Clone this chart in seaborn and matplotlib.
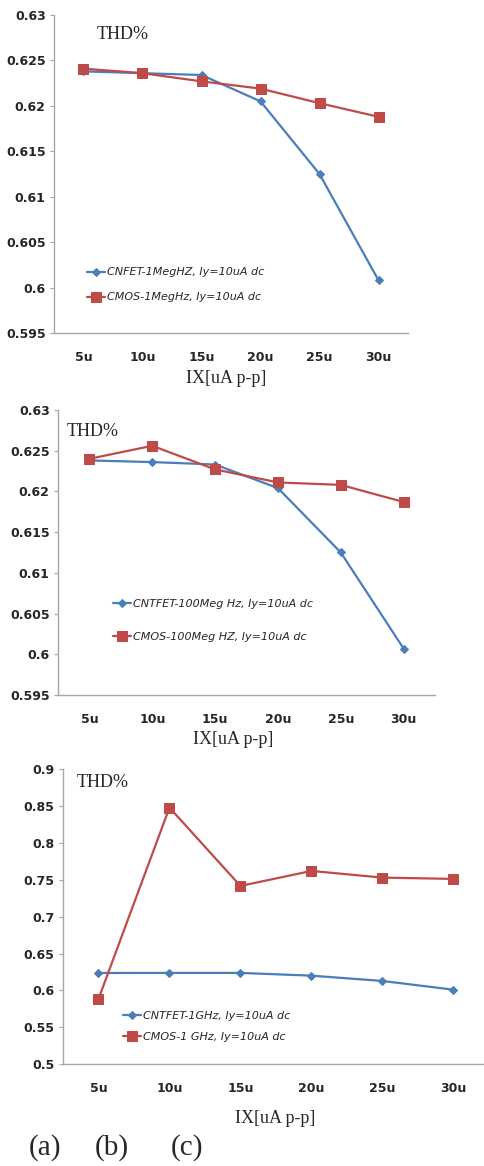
import numpy as np
import pandas as pd
import matplotlib
matplotlib.use("Agg")
import matplotlib.pyplot as plt
import seaborn as sns

sns.set_style("white")
plt.rcParams["font.family"] = ["DejaVu Sans"]

# data
ix_labels = ["5u", "10u", "15u", "20u", "25u", "30u"]

a_cnfet = [0.6238, 0.6236, 0.6234, 0.6205, 0.6125, 0.6008]
a_cmos = [0.6241, 0.6236, 0.6227, 0.6219, 0.6203, 0.6188]
b_cnfet = [0.6238, 0.6236, 0.6233, 0.6204, 0.6125, 0.6007]
b_cmos = [0.6240, 0.6256, 0.6227, 0.6211, 0.6208, 0.6187]
c_cnfet = [0.6237, 0.6238, 0.6238, 0.6201, 0.6129, 0.6011]
c_cmos = [0.5885, 0.8477, 0.7416, 0.7619, 0.7529, 0.7511]

a_names = ["CNFET-1MegHZ, Iy=10uA dc", "CMOS-1MegHz, Iy=10uA dc"]
b_names = ["CNTFET-100Meg Hz, Iy=10uA dc", "CMOS-100Meg HZ, Iy=10uA dc"]
c_names = ["CNTFET-1GHz, Iy=10uA dc", "CMOS-1 GHz, Iy=10uA dc"]

a_yticks = [0.595, 0.6, 0.605, 0.61, 0.615, 0.62, 0.625, 0.63]
c_yticks = [0.5, 0.55, 0.6, 0.65, 0.7, 0.75, 0.8, 0.85, 0.9]

blue = "#4a7ebb"
red = "#be4b48"
spine_col = "#a6a6a6"

panels = [
    # values, names, yticks, axes rect, legend anchor, legend spacing, THD pos, xlabel pos
    dict(vals=[a_cnfet, a_cmos], names=a_names, yticks=a_yticks,
         rect=[0.1113, 0.7144, 0.730, 0.2727], leg=(0.093, 0.151), ls=1.35,
         thd=(0.121, 0.940), xl=(0.486, -0.142)),
    dict(vals=[b_cnfet, b_cmos], names=b_names, yticks=a_yticks,
         rect=[0.1196, 0.4040, 0.7773, 0.2444], leg=(0.146, 0.261), ls=2.05,
         thd=(0.024, 0.923), xl=(0.464, -0.155)),
    dict(vals=[c_cnfet, c_cmos], names=c_names, yticks=c_yticks,
         rect=[0.1299, 0.0872, 0.878, 0.2533], leg=(0.141, 0.128), ls=0.95,
         thd=(0.033, 0.953), xl=(0.498, -0.182)),
]

fig = plt.figure(figsize=(4.85, 11.66), dpi=100)

for p in panels:
    ax = fig.add_axes(p["rect"])
    df = pd.DataFrame({
        "IX": ix_labels * 2,
        "THD": p["vals"][0] + p["vals"][1],
        "series": [p["names"][0]] * 6 + [p["names"][1]] * 6,
    })
    sns.lineplot(data=df[df.series == p["names"][0]], x="IX", y="THD",
                 color=blue, marker="D", markersize=4.2, markeredgecolor=blue,
                 linewidth=1.6, label=p["names"][0], ax=ax)
    sns.lineplot(data=df[df.series == p["names"][1]], x="IX", y="THD",
                 color=red, marker="s", markersize=6.5, markeredgecolor=red,
                 linewidth=1.6, label=p["names"][1], ax=ax)

    ax.set_xlim(-0.5, 5.5)
    ax.set_ylim(p["yticks"][0], p["yticks"][-1])
    ax.set_yticks(p["yticks"])
    ax.set_yticklabels([f"{t:g}" for t in p["yticks"]])
    for sp in ["top", "right"]:
        ax.spines[sp].set_visible(False)
    for sp in ["left", "bottom"]:
        ax.spines[sp].set_color(spine_col)
        ax.spines[sp].set_linewidth(1.0)
    ax.tick_params(axis="y", left=True, length=3, width=0.8, color=spine_col,
                   pad=3, labelsize=9)
    ax.tick_params(axis="x", bottom=False, length=0, pad=13, labelsize=9)
    for lab in ax.get_xticklabels() + ax.get_yticklabels():
        lab.set_fontweight("bold")
        lab.set_color("#262626")

    ax.set_ylabel("")
    ax.set_xlabel("IX[uA p-p]", fontsize=13, family="Liberation Serif")
    ax.xaxis.set_label_coords(*p["xl"])
    ax.xaxis.label.set_va("center")

    ax.text(p["thd"][0], p["thd"][1], "THD%", transform=ax.transAxes,
            fontsize=13, family="Liberation Serif", ha="left", va="center")

    handles, labels = ax.get_legend_handles_labels()
    ax.legend(handles, labels, loc="center left", bbox_to_anchor=p["leg"],
              frameon=False, borderpad=0, borderaxespad=0, handlelength=1.6,
              handletextpad=0.2, labelspacing=p["ls"],
              prop=dict(family="DejaVu Sans", style="italic", size=8))

for x, t in [(45, "(a)"), (112, "(b)"), (187, "(c)")]:
    fig.text(x / 485, 1 - 1148 / 1166, t, fontsize=21, family="Liberation Serif",
             ha="center", va="center")

fig.savefig("out.png", dpi=100)
